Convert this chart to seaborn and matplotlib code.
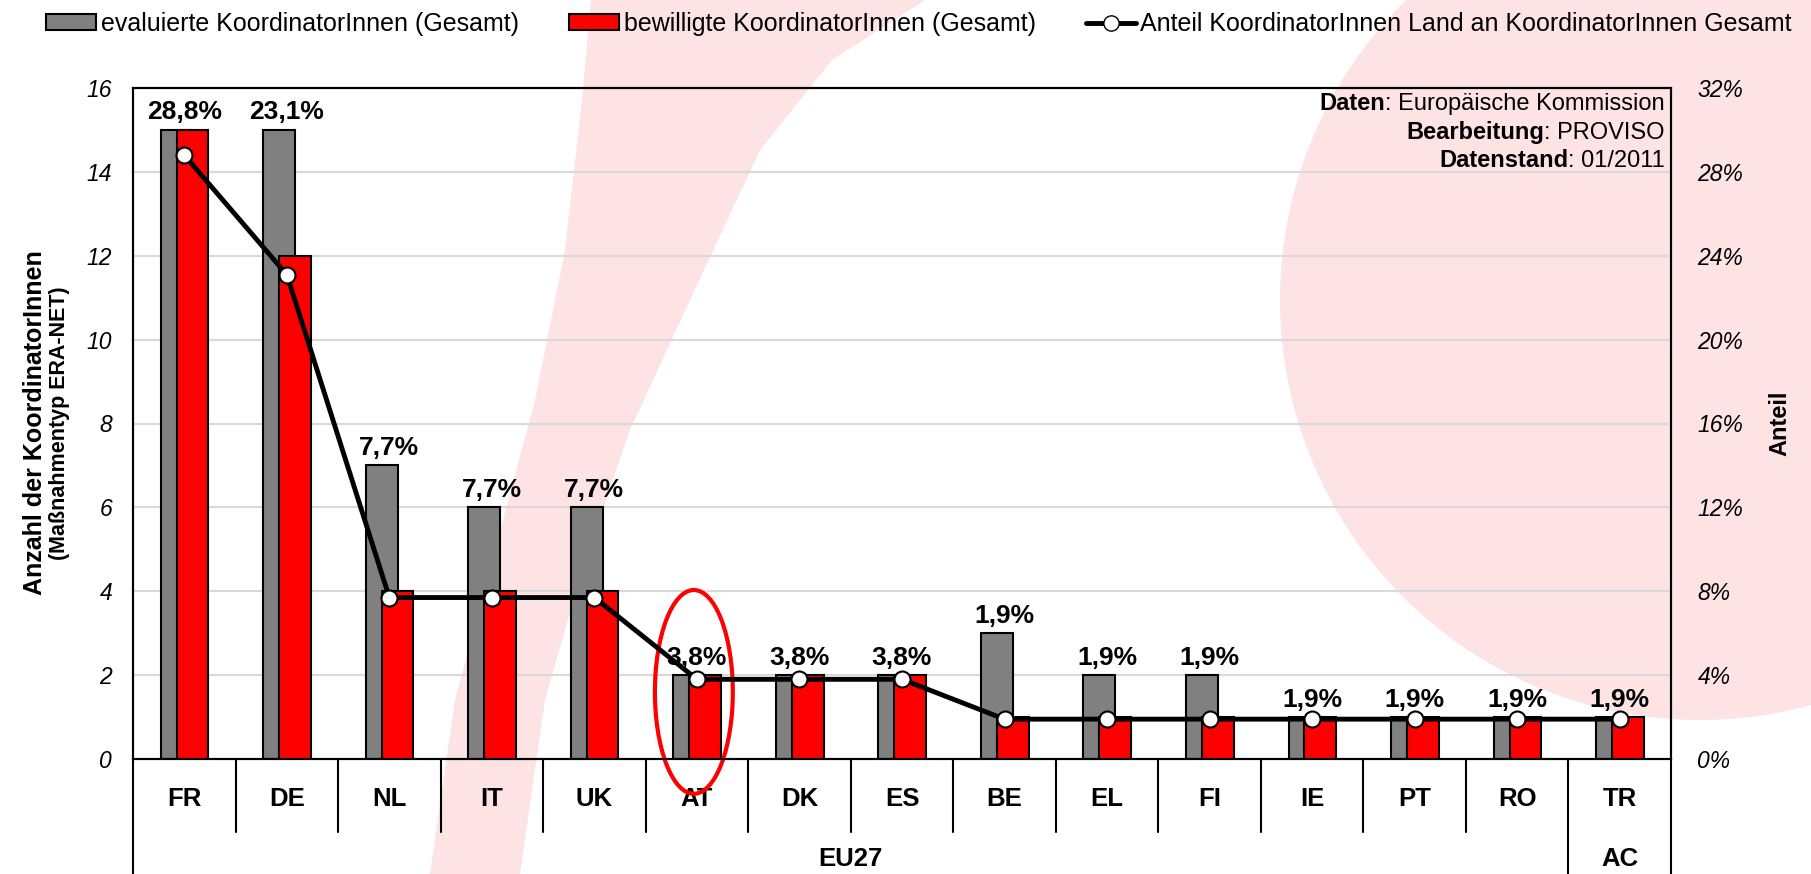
# -*- coding: utf-8 -*-
# Koordinatoren ERA-NET nach Land (evaluiert / bewilligt / Anteil)

import numpy as np
import matplotlib
matplotlib.use('Agg')
import matplotlib.pyplot as plt
from matplotlib.patches import Patch, Circle, Polygon, Ellipse
from matplotlib.lines import Line2D
import seaborn as sns

# ---------------- Daten
laender = ['FR', 'DE', 'NL', 'IT', 'UK', 'AT', 'DK', 'ES', 'BE', 'EL', 'FI', 'IE', 'PT', 'RO', 'TR']
gruppen = ['EU27'] * 14 + ['AC']
evaluiert = [15, 15, 7, 6, 6, 2, 2, 2, 3, 2, 2, 1, 1, 1, 1]
bewilligt = [15, 12, 4, 4, 4, 2, 2, 2, 1, 1, 1, 1, 1, 1, 1]
anteil = [28.8, 23.1, 7.7, 7.7, 7.7, 3.8, 3.8, 3.8, 1.9, 1.9, 1.9, 1.9, 1.9, 1.9, 1.9]
y_ticks = list(range(0, 17, 2))
y2_ticks = list(range(0, 33, 4))

sns.set_style('white')
plt.rcParams['font.family'] = ['Liberation Sans', 'DejaVu Sans']
plt.rcParams['text.color'] = 'black'
plt.rcParams['axes.labelcolor'] = 'black'
plt.rcParams['xtick.color'] = 'black'
plt.rcParams['ytick.color'] = 'black'

W, H = 1811, 874
fig = plt.figure(figsize=(W / 100, H / 100), dpi=100)

# Hintergrund (Logo-Wasserzeichen)
bg = fig.add_axes([0, 0, 1, 1], zorder=-10)
bg.set_xlim(0, W)
bg.set_ylim(H, 0)
bg.axis('off')
rosa = '#fde3e3'
bg.add_patch(Circle((1700, 300), 420, color=rosa, lw=0))
band = [(591, 0), (925, 0), (832, 60), (760, 150), (690, 300), (630, 430), (585, 560),
        (545, 700), (520, 874), (430, 874), (455, 700), (495, 550), (535, 400), (565, 250), (582, 100)]
bg.add_patch(Polygon(band, closed=True, color=rosa, lw=0))

# Hauptachse
x0, x1, y0, y1 = 133, 1671, 759, 88
ax = fig.add_axes([x0 / W, 1 - y0 / H, (x1 - x0) / W, (y0 - y1) / H])
ax.set_facecolor('none')

idx = np.arange(len(laender))
sns.barplot(x=idx - 0.075, y=evaluiert, native_scale=True, width=0.31, color='#808080',
            saturation=1, edgecolor='black', linewidth=1.5, ax=ax, zorder=2)
sns.barplot(x=idx + 0.08, y=bewilligt, native_scale=True, width=0.31, color='#ff0000',
            saturation=1, edgecolor='black', linewidth=1.5, ax=ax, zorder=3)

ax.set_xlim(-0.5, len(laender) - 0.5)
ax.set_ylim(0, 16)
ax.set_yticks(y_ticks)
ax.set_yticklabels([str(t) for t in y_ticks], fontsize=16.5, style='italic')
ax.set_xticks([])
ax.set_xlabel('')
ax.tick_params(axis='y', length=0, pad=15)
ax.set_axisbelow(True)
ax.yaxis.grid(True, color='#d9d9d9', lw=1.5)
for s in ax.spines.values():
    s.set_color('black')
    s.set_linewidth(1.5)

# Anteil (rechte Achse)
ax2 = ax.twinx()
sns.lineplot(x=idx, y=anteil, ax=ax2, color='black', lw=3.5, marker='o', markersize=11.5,
             markerfacecolor='white', markeredgecolor='black', markeredgewidth=1.5, zorder=5)
ax2.set_ylim(0, 32)
ax2.set_yticks(y2_ticks)
ax2.set_yticklabels([f'{t}%' for t in y2_ticks], fontsize=16.5, style='italic')
ax2.tick_params(axis='y', length=0, pad=19)
ax2.set_ylabel('Anteil', fontsize=17, fontweight='bold', labelpad=18)
for s in ax2.spines.values():
    s.set_color('black')
    s.set_linewidth(1.5)

# Prozentwerte über den Balken
for i, (e, b, a) in enumerate(zip(evaluiert, bewilligt, anteil)):
    ax.annotate(f'{a:.1f}'.replace('.', ',') + '%', xy=(i, max(e, b)), xytext=(0, 4),
                textcoords='offset points', ha='center', va='bottom',
                fontsize=19, fontweight='bold', zorder=6)

# Kategorienbeschriftung mit Trennlinien
tr = ax.get_xaxis_transform()
y_row = -(832 - 759) / (y0 - y1)
y_bot = -(H - 759) / (y0 - y1)
y_grp = -(859 - 759) / (y0 - y1)
for i, land in enumerate(laender):
    ax.text(i, y_row / 2 - 0.005, land, transform=tr, ha='center', va='center',
            fontsize=18.5, fontweight='bold')
for i in range(len(laender) + 1):
    b = i - 0.5
    neue_gruppe = i == 0 or i == len(laender) or gruppen[i] != gruppen[i - 1]
    ax.plot([b, b], [0, y_bot if neue_gruppe else y_row], transform=tr, color='black',
            lw=1.5, clip_on=False)
for g in dict.fromkeys(gruppen):
    pos = [i for i, gg in enumerate(gruppen) if gg == g]
    ax.text((pos[0] + pos[-1]) / 2, y_grp, g, transform=tr,
            ha='center', va='center', fontsize=18.5, fontweight='bold')

# Markierung AT
at = laender.index('AT')
ax.add_patch(Ellipse((at - 0.03, 1.6), 0.76, 4.86, fill=False, edgecolor='#ff0000',
                     lw=3, clip_on=False, zorder=7))

# Quellenangabe
quelle = [('Daten', ': Europäische Kommission'),
          ('Bearbeitung', ': PROVISO'),
          ('Datenstand', ': 01/2011')]
for k, (fett, normal) in enumerate(quelle):
    t = ax.text(0.996, 0.976 - k * 0.0425, normal, transform=ax.transAxes, ha='right',
                va='center', fontsize=17, zorder=8)
    ax.annotate(fett, xy=(0, 0), xycoords=t, ha='right', va='bottom', fontsize=17,
                fontweight='bold', zorder=8)

# y-Achsentitel
fig.text(35 / W, 1 - 423 / H, 'Anzahl der KoordinatorInnen', rotation=90, ha='center',
         va='center', fontsize=18, fontweight='bold')
fig.text(59 / W, 1 - 423 / H, '(Maßnahmentyp ERA-NET)', rotation=90, ha='center',
         va='center', fontsize=15.5, fontweight='bold')

# Legende
handles = [Patch(facecolor='#808080', edgecolor='black', lw=1.5),
           Patch(facecolor='#ff0000', edgecolor='black', lw=1.5),
           Line2D([], [], color='black', lw=3.5, marker='o', markersize=11,
                  markerfacecolor='white', markeredgecolor='black')]
labels = ['evaluierte KoordinatorInnen (Gesamt)', 'bewilligte KoordinatorInnen (Gesamt)',
          'Anteil KoordinatorInnen Land an KoordinatorInnen Gesamt']
fig.legend(handles, labels, loc='center', bbox_to_anchor=(46 / W, 1 - 44 / H, 1746 / W, 40 / H),
           mode='expand', ncol=3, frameon=False, fontsize=18, handlelength=2.0,
           handleheight=0.6, handletextpad=0.2, borderaxespad=0, borderpad=0)

fig.savefig('out.png', dpi=100)
